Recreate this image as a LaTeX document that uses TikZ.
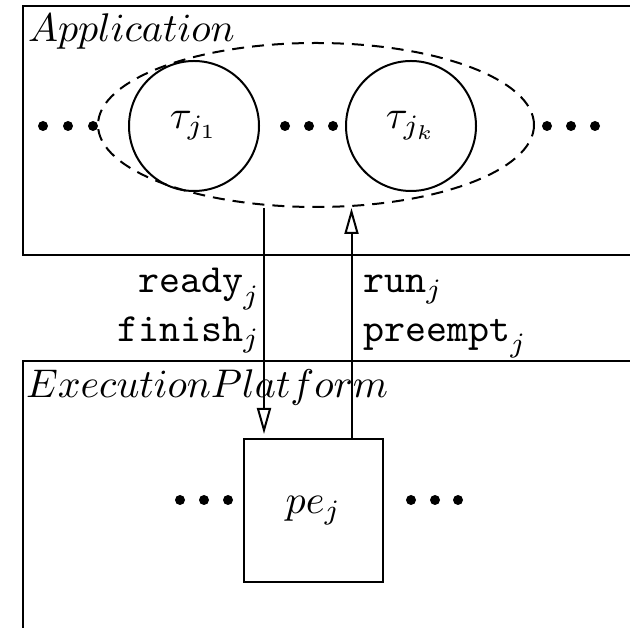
\documentclass[tikz,border=0pt]{standalone}
\usetikzlibrary{arrows.meta,shapes.geometric}
\begin{document}
\begin{tikzpicture}[x=0.25pt, y=-0.25pt, line width=0.5pt,
  task/.style={circle, draw, minimum size=32.5pt, inner sep=0pt},
  sig/.style={-{Triangle[open, length=6.5pt, width=3.5pt]}},
  lbl/.style={inner sep=0pt}]
\useasboundingbox (0,0) rectangle (630,628);
\clip (0,0) rectangle (630,628);

\draw (23,6) rectangle (640,255);
\node[lbl, anchor=base west] (app) at (27,42) {$Application$};
\node[ellipse, draw, dash pattern=on 3pt off 2pt, minimum width=109pt, minimum height=41pt] (grp) at (316,125) {};
\node[task] (t1) at (194,126) {$\tau_{j_1}$};
\node[task] (tk) at (411,126) {$\tau_{j_k}$};
\foreach \x in {43,68,93,285,309,333,547,571,595}
  \fill (\x,126) circle (5);

\draw (23,361) rectangle (640,640);
\node[lbl, anchor=base west] (exec) at (25,398) {$ExecutionPlatform$};
\node[draw, minimum width=34.75pt, minimum height=35.75pt] (pe) at (313.5,510.5) {$pe_j$};
\foreach \x in {180,204,228,411,435,458}
  \fill (\x,500) circle (5);

\draw[sig, shorten >=1pt] ([xshift=-13pt]grp.south) -- ([xshift=-13pt]grp.south |- pe.north);
\draw[sig] ([xshift=9.5pt]pe.north) -- ([xshift=9.5pt]pe.north |- grp.south);

\node[lbl, anchor=base east] (ready) at (261,293) {$\texttt{ready}_j$};
\node[lbl, anchor=base east] (finish) at (261,342) {$\texttt{finish}_j$};
\node[lbl, anchor=base west] (run) at (362,293) {$\texttt{run}_j$};
\node[lbl, anchor=base west] (preempt) at (362,342) {$\texttt{preempt}_j$};
\end{tikzpicture}
\end{document}
